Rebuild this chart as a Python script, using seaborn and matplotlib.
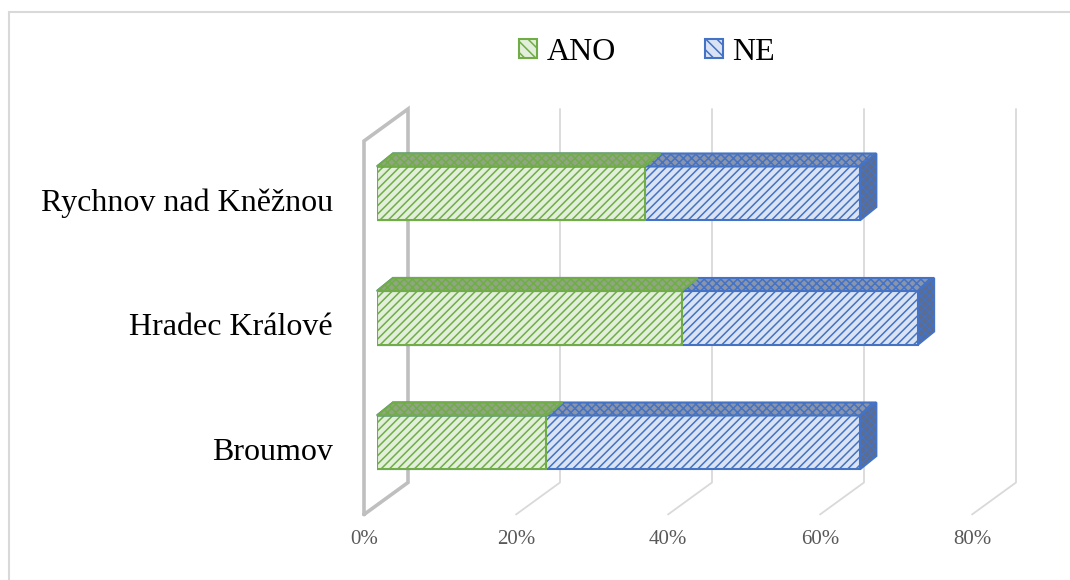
# 3D-style stacked bar chart (ANO / NE) recreated with seaborn + matplotlib
import numpy as np
import pandas as pd
import matplotlib
matplotlib.use("Agg")
import matplotlib.pyplot as plt
import matplotlib.transforms as mtransforms
from matplotlib.patches import Polygon, Patch, Rectangle
from matplotlib.lines import Line2D
import seaborn as sns

# Data
cities = ["Rychnov nad Kněžnou", "Hradec Králové", "Broumov"]
ano = [35.2, 40.1, 22.3]
ne = [28.4, 31.1, 41.3]
ticks = [0, 20, 40, 60, 80]
tick_labels = ["0%", "20%", "40%", "60%", "80%"]
series_names = ["ANO", "NE"]

df = pd.DataFrame({"mesto": cities, "ANO": ano, "NE": ne})
df["celkem"] = df["ANO"] + df["NE"]

# Style
sns.set_theme(style="white")
plt.rcParams["font.family"] = ["Liberation Serif", "DejaVu Serif"]
plt.rcParams["hatch.linewidth"] = 1.1

ano_face, ano_edge = "#e2efda", "#70ad47"
ne_face, ne_edge = "#dae3f3", "#4472c4"

fig = plt.figure(figsize=(10.7, 5.8), dpi=100)
ax = fig.add_axes([377 / 1070, (580 - 504.5) / 580, 608 / 1070, 373.5 / 580])

# Front faces: total (NE) first, ANO on top
sns.barplot(data=df, x="celkem", y="mesto", orient="h", color=ne_face,
            saturation=1, width=0.43, errorbar=None, ax=ax)
n_ne = len(ax.patches)
sns.barplot(data=df, x="ANO", y="mesto", orient="h", color=ano_face,
            saturation=1, width=0.43, errorbar=None, ax=ax)

for i, p in enumerate(ax.patches):
    edge = ne_edge if i < n_ne else ano_edge
    p.set_hatch("////")
    p.set_edgecolor(edge)
    p.set_linewidth(1.5)
    p.set_zorder(3)

ax.set_xlim(0, 80)
ax.set_ylim(2.5, -0.5)
ax.set_xticks([])
ax.set_yticks([])
ax.set_xlabel("")
ax.set_ylabel("")
for s in ax.spines.values():
    s.set_visible(False)

# depth offsets in pixels (display coords, y up)
FRONT = np.array([-13, -10])
BACK = np.array([31, 22])
DEPTH = np.array([16, 13])
ident = mtransforms.IdentityTransform()


def D(x, y, off):
    return ax.transData.transform((x, y)) + off


# back wall, floor lines and left wall
for t in ticks:
    pts = np.array([D(t, -0.5, BACK), D(t, 2.5, BACK), D(t, 2.5, FRONT)])
    ax.add_line(Line2D(pts[:, 0], pts[:, 1], transform=ident, color="#d9d9d9",
                       lw=1.3, zorder=1, clip_on=False))
wall = np.array([D(0, 2.5, FRONT), D(0, -0.5, FRONT), D(0, -0.5, BACK),
                 D(0, 2.5, BACK), D(0, 2.5, FRONT)])
ax.add_line(Line2D(wall[:, 0], wall[:, 1], transform=ident, color="#bfbfbf",
                   lw=2.6, zorder=1.5, clip_on=False, solid_joinstyle="miter"))

# top and side faces of the bars
for i, p in enumerate(ax.patches):
    x0 = p.get_x()
    x1 = x0 + p.get_width()
    ytop = min(p.get_y(), p.get_y() + p.get_height())
    ybot = max(p.get_y(), p.get_y() + p.get_height())
    zero = np.array([0, 0])
    if i < n_ne:
        top_fc, top_ec = "#8a95ab", ne_edge
    else:
        top_fc, top_ec = "#90a683", ano_edge
    top = [D(x0, ytop, zero), D(x1, ytop, zero), D(x1, ytop, DEPTH), D(x0, ytop, DEPTH)]
    ax.add_patch(Polygon(top, closed=True, transform=ident, facecolor=top_fc,
                         edgecolor=top_ec, hatch="xxxx", lw=1.5,
                         zorder=3.2 + (0.1 if i >= n_ne else 0), clip_on=False))
    if i < n_ne:
        side = [D(x1, ytop, zero), D(x1, ybot, zero), D(x1, ybot, DEPTH), D(x1, ytop, DEPTH)]
        ax.add_patch(Polygon(side, closed=True, transform=ident, facecolor="#5f6c8a",
                             edgecolor=ne_edge, hatch="xxxx", lw=1.5, zorder=3.2,
                             clip_on=False))

# category labels on the front plane
lab_trans = mtransforms.offset_copy(ax.transData, fig=fig, x=-13 - 31, y=-10, units="dots")
for i, c in enumerate(cities):
    ax.text(0, i, c, transform=lab_trans, ha="right", va="center",
            fontsize=23, color="black")

# x tick labels on the front floor edge
tick_trans = mtransforms.offset_copy(ax.transData, fig=fig, x=-13, y=-26, units="dots")
for t, lab in zip(ticks, tick_labels):
    ax.text(t, 2.5, lab, transform=tick_trans, ha="center", va="top",
            fontsize=15, color="#595959")

# legend
handles = [Patch(facecolor=ano_face, edgecolor=ano_edge, hatch="\\\\\\", lw=1.5),
           Patch(facecolor=ne_face, edgecolor=ne_edge, hatch="\\\\\\", lw=1.5)]
leg = fig.legend(handles, series_names, loc="center", bbox_to_anchor=(0.605, 0.91),
                 ncol=2, frameon=False, fontsize=23, handlelength=0.55,
                 handleheight=0.55, handletextpad=0.3, columnspacing=2.8)
for txt in leg.get_texts():
    txt.set_color("black")

# chart area border
fig.add_artist(Rectangle((9 / 1070, -0.05), 1.1, (580 - 12) / 580 + 0.05,
                         transform=fig.transFigure, fill=False,
                         edgecolor="#d9d9d9", lw=1.5, clip_on=False))

fig.savefig("out.png", dpi=100)
